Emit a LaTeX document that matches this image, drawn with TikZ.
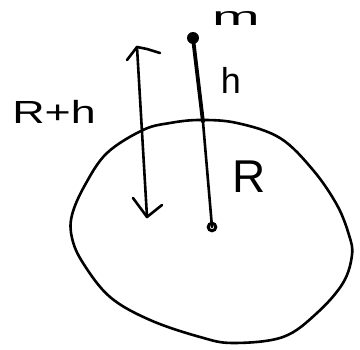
\documentclass[tikz,border=0pt]{standalone}
\usepackage{fontspec}
\setmainfont{Liberation Sans}
\begin{document}
\begin{tikzpicture}[x=1pt,y=-1pt,
  stroke/.style={line width=2.6pt,line cap=round,line join=round},
  thickstroke/.style={line width=3.8pt,line cap=round,line join=round},
  lbl/.style={inner sep=0pt,anchor=center}]
\useasboundingbox (0,0) rectangle (360,350);
% planet outline
\draw[stroke] plot[smooth cycle,tension=0.6] coordinates {
  (200,120) (237,123) (280,138) (313,170) (337,205) (349,235) (352,255)
  (343,283) (317,313) (283,337) (233,343) (200,337) (150,320) (110,297)
  (83,263) (72,238) (72,215) (85,185) (107,153) (143,130) (170,123)};
% key points
\coordinate (mdot) at (193,38);
\coordinate (surf) at (203,122);
\coordinate (center) at (212,227);
\coordinate (atop) at (137,47);
\coordinate (abot) at (147,217);
% radius and height
\draw[thickstroke] (mdot) -- (surf);
\draw[stroke] (surf) -- (center);
\fill (mdot) circle (6);
\draw[line width=3pt] (center) circle (3.8);
% double arrow R+h
\draw[stroke] (atop) -- (abot);
\draw[stroke] (127,60) -- (atop) -- (147,49) -- (160,53);
\draw[stroke] (133,198) -- (abot) -- (162,205);
% labels
\node[lbl,font=\fontsize{26}{26}\selectfont,xscale=2.2] (m) at (236,19) {m};
\node[lbl,font=\fontsize{36}{36}\selectfont] (h) at (231,80) {h};
\node[lbl,font=\fontsize{32}{32}\selectfont,xscale=1.4] (rh) at (54,112) {R+h};
\node[lbl,font=\fontsize{46}{46}\selectfont] (R) at (249,177) {R};
\end{tikzpicture}
\end{document}
